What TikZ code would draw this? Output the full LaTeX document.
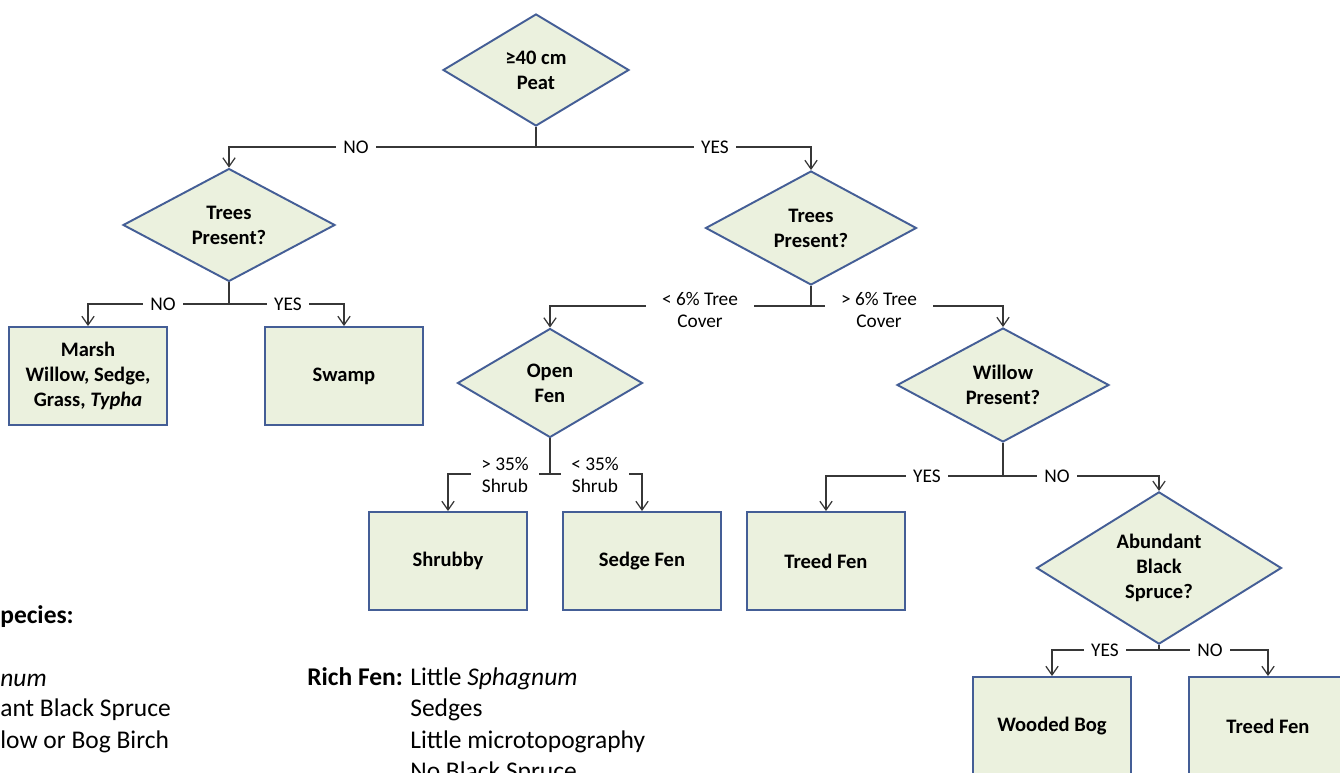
\documentclass[tikz,border=0pt]{standalone}
\usepackage{fontspec}
\setmainfont{Carlito}
\usetikzlibrary{shapes.geometric,arrows.meta}

\definecolor{boxfill}{RGB}{235,241,222}
\definecolor{boxline}{RGB}{68,94,150}
\definecolor{wirecol}{RGB}{55,55,55}

\tikzset{
  decision/.style={diamond, draw=boxline, fill=boxfill, line width=1.1pt,
    inner sep=0pt, align=center, font=\fontsize{11.7}{14.2}\selectfont\bfseries},
  outcome/.style={rectangle, draw=boxline, fill=boxfill, line width=1.1pt,
    minimum width=3.16cm, minimum height=1.96cm, align=center,
    font=\fontsize{11.7}{14.2}\selectfont\bfseries},
  wire/.style={draw=wirecol, line width=0.7pt},
  arr/.style={wire, -{Straight Barb[length=5pt,width=7pt]}},
  lbl/.style={fill=white, inner xsep=4pt, inner ysep=1pt, align=center,
    font=\fontsize{11}{13}\selectfont},
  legend/.style={anchor=base west, inner sep=0pt, font=\fontsize{14.5}{17.6}\selectfont}
}

\begin{document}
\begin{tikzpicture}[x=0.02cm,y=-0.02cm]
  \clip (0,0) rectangle (1340,773);
  \fill[white] (0,0) rectangle (1340,773);

  % decisions
  \node[decision, minimum width=3.72cm, minimum height=2.24cm] (peat) at (536,70) {≥40 cm\\Peat};
  \node[decision, minimum width=4.24cm, minimum height=2.2cm] (treesL) at (229,225) {Trees\\Present?};
  \node[decision, minimum width=4.22cm, minimum height=2.28cm] (treesR) at (811,228) {Trees\\Present?};
  \node[decision, minimum width=3.7cm, minimum height=2.18cm] (openfen) at (550,383) {Open\\Fen};
  \node[decision, minimum width=4.24cm, minimum height=2.28cm] (willow) at (1003,385) {Willow\\Present?};
  \node[decision, minimum width=4.9cm, minimum height=2.22cm] (spruce) at (1159,568) {Abundant\\Black\\Spruce?};

  % outcomes
  \node[outcome] (marsh) at (88,376) {Marsh\\Willow, Sedge,\\Grass, \textit{Typha}};
  \node[outcome] (swamp) at (344,376) {Swamp};
  \node[outcome] (shrubby) at (448,561) {Shrubby};
  \node[outcome] (sedgefen) at (642,561) {Sedge Fen};
  \node[outcome] (treedfenA) at (826,561) {Treed Fen};
  \node[outcome] (woodedbog) at (1052,726) {Wooded Bog};
  \node[outcome] (treedfenB) at (1268,726) {Treed Fen};

  % junctions
  \coordinate (jpeat) at (536,147);
  \coordinate (jtreesL) at (229,304);
  \coordinate (jtreesR) at (811,306);
  \coordinate (jopen) at (550,474);
  \coordinate (jwillow) at (1003,476);
  \coordinate (jspruce) at (1159,650);

  % connectors
  \draw[wire] (peat.south) -- (jpeat);
  \draw[arr] (jpeat) -| (treesL.north);
  \draw[arr] (jpeat) -| (treesR.north);
  \draw[wire] (treesL.south) -- (jtreesL);
  \draw[arr] (jtreesL) -| (marsh.north);
  \draw[arr] (jtreesL) -| (swamp.north);
  \draw[wire] (treesR.south) -- (jtreesR);
  \draw[arr] (jtreesR) -| (openfen.north);
  \draw[arr] (jtreesR) -| (willow.north);
  \draw[wire] (openfen.south) -- (jopen);
  \draw[arr] (jopen) -| (shrubby.north);
  \draw[arr] (jopen) -| (sedgefen.north);
  \draw[wire] (willow.south) -- (jwillow);
  \draw[arr] (jwillow) -| (treedfenA.north);
  \draw[arr] (jwillow) -| (spruce.north);
  \draw[wire] (spruce.south) -- (jspruce);
  \draw[arr] (jspruce) -| (woodedbog.north);
  \draw[arr] (jspruce) -| (treedfenB.north);

  % branch labels
  \node[lbl] (peatno) at (356,147) {NO};
  \node[lbl] (peatyes) at (715,147) {YES};
  \node[lbl] (treesLno) at (163,304) {NO};
  \node[lbl] (treesLyes) at (288,304) {YES};
  \node[lbl, inner xsep=9pt] (treesRlow) at (700,310) {< 6\% Tree\\Cover};
  \node[lbl, inner xsep=9pt] (treesRhigh) at (879,310) {> 6\% Tree\\Cover};
  \node[lbl, inner xsep=6pt] (openhigh) at (505,475) {> 35\%\\Shrub};
  \node[lbl, inner xsep=6pt] (openlow) at (595,475) {< 35\%\\Shrub};
  \node[lbl] (willowyes) at (927,476) {YES};
  \node[lbl] (willowno) at (1057,476) {NO};
  \node[lbl] (spruceyes) at (1105,650) {YES};
  \node[lbl] (spruceno) at (1210,650) {NO};

  % key
  \node[legend] (keyhead) at (0,623) {\bfseries pecies:};
  \node[legend] (bogA) at (0,686) {\itshape num};
  \node[legend] (bogB) at (0,717) {ant Black Spruce};
  \node[legend] (bogC) at (0,748) {low or Bog Birch};
  \node[legend] (richhead) at (307,685) {\bfseries Rich Fen:};
  \node[legend] (richA) at (410,685) {Little \textit{Sphagnum}};
  \node[legend] (richB) at (410,717) {Sedges};
  \node[legend] (richC) at (410,748) {Little microtopography};
  \node[legend] (richD) at (410,779) {No Black Spruce};
\end{tikzpicture}
\end{document}
